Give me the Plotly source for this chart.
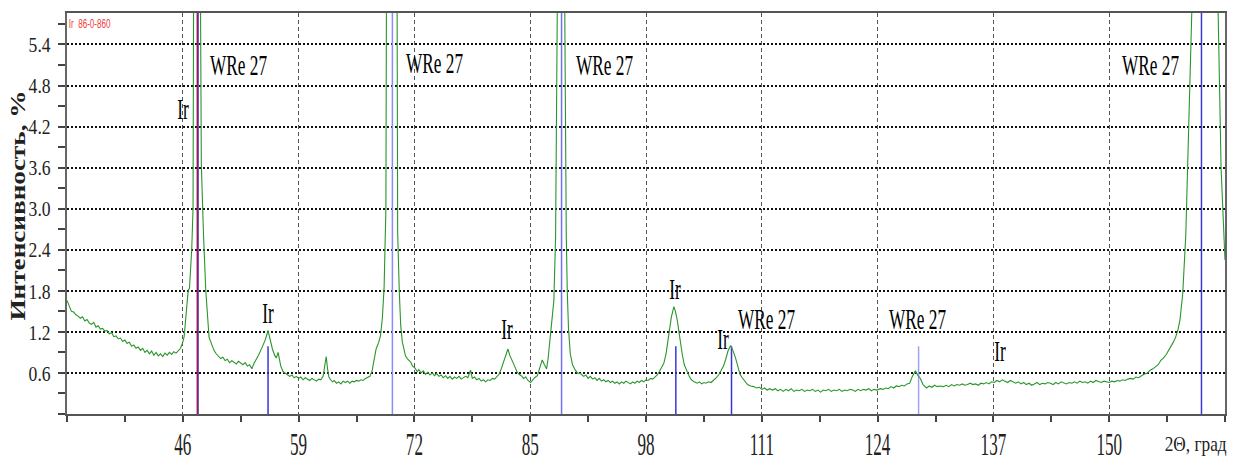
import plotly.graph_objects as go

# Diffraction pattern (2-theta in degrees, intensity in %)
two_theta = [
    33.0, 33.25, 33.5, 33.75, 34.0, 34.25, 34.5, 34.75, 35.0, 35.25, 35.5, 35.75,
    36.0, 36.25, 36.5, 36.75, 37.0, 37.25, 37.5, 37.75, 38.0, 38.25, 38.5, 38.75,
    39.0, 39.25, 39.5, 39.75, 40.0, 40.25, 40.5, 40.75, 41.0, 41.25, 41.5, 41.75,
    42.0, 42.25, 42.5, 42.75, 43.0, 43.25, 43.5, 43.75, 44.0, 44.25, 44.5, 44.75,
    45.0, 45.25, 45.5, 45.75, 46.0, 46.15, 46.3, 46.45, 46.6, 46.75, 47.0, 47.15,
    47.3, 47.4, 47.68, 47.95, 48.08, 48.32, 48.58, 48.95, 49.25, 49.5, 49.75,
    50.0, 50.25, 50.5, 50.75, 51.0, 51.25, 51.5, 51.75, 52.0, 52.25, 52.5, 52.75,
    53.0, 53.25, 53.5, 53.75, 54.0, 54.25, 54.5, 54.75, 55.0, 55.25, 55.57, 55.8,
    56.06, 56.3, 56.5, 56.7, 56.85, 57.0, 57.25, 57.5, 57.75, 58.0, 58.25, 58.5,
    58.75, 59.0, 59.25, 59.5, 59.75, 60.0, 60.25, 60.5, 60.75, 61.0, 61.25, 61.5,
    61.75, 62.0, 62.1, 62.25, 62.4, 62.6, 62.8, 63.0, 63.25, 63.5, 63.75, 64.0,
    64.25, 64.5, 64.75, 65.0, 65.25, 65.5, 65.75, 66.0, 66.25, 66.5, 66.75, 67.0,
    67.25, 67.5, 67.7, 68.0, 68.2, 68.4, 68.6, 68.8, 68.97, 69.1, 69.53, 69.95,
    70.05, 70.12, 70.3, 70.46, 70.65, 70.83, 71.0, 71.25, 71.58, 71.8, 72.0, 72.33,
    72.5, 72.75, 73.0, 73.25, 73.5, 73.75, 74.0, 74.25, 74.5, 74.75, 75.0, 75.25,
    75.5, 75.75, 76.0, 76.25, 76.5, 76.75, 77.0, 77.25, 77.5, 77.75, 78.0, 78.3,
    78.5, 78.75, 79.0, 79.25, 79.5, 79.75, 80.0, 80.25, 80.5, 80.75, 81.0, 81.25,
    81.5, 81.75, 82.05, 82.3, 82.5, 82.7, 83.0, 83.25, 83.5, 83.75, 84.0, 84.25,
    84.5, 84.75, 85.04, 85.25, 85.5, 85.8, 86.1, 86.35, 86.6, 86.84, 87.0, 87.3,
    87.5, 87.66, 87.85, 88.04, 88.15, 88.52, 88.8, 88.88, 88.95, 89.05, 89.16,
    89.3, 89.5, 89.75, 90.07, 90.3, 90.65, 91.0, 91.25, 91.5, 91.75, 92.0, 92.25,
    92.5, 92.75, 93.0, 93.25, 93.5, 93.75, 94.0, 94.25, 94.5, 94.75, 95.0, 95.25,
    95.5, 95.75, 96.0, 96.25, 96.5, 96.75, 97.0, 97.25, 97.5, 97.75, 98.0, 98.25,
    98.5, 98.75, 99.0, 99.26, 99.5, 99.75, 100.0, 100.25, 100.57, 100.85, 101.13,
    101.3, 101.5, 101.75, 102.06, 102.3, 102.6, 102.85, 103.1, 103.4, 103.75,
    104.0, 104.25, 104.5, 104.75, 105.0, 105.3, 105.6, 105.9, 106.2, 106.45,
    106.7, 106.95, 107.2, 107.5, 107.75, 108.05, 108.3, 108.55, 108.8, 109.1,
    109.4, 109.75, 110.1, 110.4, 110.75, 111.0, 111.3, 111.6, 111.9, 112.2, 112.5,
    112.8, 113.1, 113.4, 113.7, 114.0, 114.3, 114.6, 114.9, 115.2, 115.5, 115.8,
    116.1, 116.4, 116.7, 117.0, 117.3, 117.6, 117.9, 118.2, 118.5, 118.8, 119.1,
    119.4, 119.7, 120.0, 120.3, 120.6, 120.9, 121.2, 121.5, 121.8, 122.1, 122.4,
    122.7, 123.0, 123.3, 123.6, 123.9, 124.3, 124.6, 124.9, 125.2, 125.5, 125.8,
    126.1, 126.4, 126.7, 127.0, 127.3, 127.6, 127.9, 128.24, 128.5, 128.8, 129.1,
    129.5, 129.8, 130.1, 130.4, 130.7, 131.0, 131.4, 131.7, 132.0, 132.3, 132.6,
    132.9, 133.2, 133.5, 133.8, 134.1, 134.4, 134.7, 135.0, 135.3, 135.6, 135.9,
    136.2, 136.5, 136.8, 137.1, 137.4, 137.7, 138.0, 138.3, 138.6, 138.9, 139.2,
    139.5, 139.8, 140.1, 140.4, 140.7, 141.0, 141.3, 141.6, 141.9, 142.2, 142.5,
    142.8, 143.1, 143.4, 143.7, 144.0, 144.3, 144.6, 144.9, 145.2, 145.5, 145.8,
    146.1, 146.4, 146.7, 147.0, 147.3, 147.6, 147.9, 148.2, 148.5, 148.8, 149.1,
    149.4, 149.7, 150.0, 150.3, 150.6, 150.9, 151.2, 151.5, 151.8, 152.1, 152.4,
    152.7, 153.0, 153.3, 153.6, 153.9, 154.3, 154.6, 154.9, 155.2, 155.5, 155.8,
    156.1, 156.4, 156.7, 156.9, 157.2, 157.45, 157.7, 157.95, 158.25, 158.6,
    159.0, 159.4, 159.8, 160.33, 161.5, 162.18, 162.56, 162.85, 163.0,
]
intensity = [
    1.66, 1.58, 1.50, 1.49, 1.45, 1.43, 1.40, 1.42, 1.36, 1.38, 1.33, 1.31,
    1.34, 1.27, 1.29, 1.24, 1.25, 1.21, 1.22, 1.17, 1.19, 1.13, 1.14, 1.10,
    1.11, 1.06, 1.08, 1.03, 1.05, 0.99, 1.01, 0.96, 0.98, 0.93, 0.96, 0.90,
    0.93, 0.88, 0.92, 0.86, 0.90, 0.85, 0.88, 0.84, 0.89, 0.86, 0.90, 0.87,
    0.91, 0.89, 0.93, 0.96, 1.05, 1.13, 1.35, 1.56, 1.80, 1.84, 2.40, 3.00,
    4.50, 7.00, 30.0, 7.00, 3.65, 2.63, 1.80, 1.12, 1.00, 0.93, 0.88,
    0.85, 0.81, 0.83, 0.78, 0.80, 0.75, 0.78, 0.76, 0.73, 0.77, 0.74, 0.72,
    0.75, 0.70, 0.72, 0.66, 0.74, 0.79, 0.86, 0.93, 1.00, 1.08, 1.22, 1.07,
    0.95, 0.86, 0.82, 0.90, 0.78, 0.70, 0.62, 0.60, 0.57, 0.55, 0.57, 0.53,
    0.55, 0.52, 0.54, 0.50, 0.53, 0.51, 0.49, 0.52, 0.50, 0.48, 0.51, 0.50,
    0.55, 0.72, 0.84, 0.66, 0.54, 0.50, 0.47, 0.49, 0.45, 0.47, 0.44, 0.48,
    0.46, 0.48, 0.45, 0.48, 0.47, 0.49, 0.48, 0.50, 0.49, 0.52, 0.53, 0.55,
    0.63, 0.82, 0.95, 1.05, 1.15, 1.40, 1.85, 3.00, 5.90, 12.0, 40.0, 12.0,
    4.00, 2.67, 1.80, 1.30, 1.05, 0.93, 0.85, 0.80, 0.76, 0.70, 0.68, 0.62,
    0.65, 0.60, 0.63, 0.58, 0.61, 0.57, 0.60, 0.56, 0.59, 0.55, 0.57, 0.53,
    0.56, 0.52, 0.55, 0.51, 0.54, 0.52, 0.55, 0.51, 0.53, 0.55, 0.53, 0.64,
    0.52, 0.54, 0.50, 0.52, 0.48, 0.50, 0.47, 0.50, 0.49, 0.52, 0.51, 0.55,
    0.58, 0.66, 0.77, 0.86, 0.95, 0.86, 0.78, 0.70, 0.62, 0.58, 0.56, 0.52,
    0.54, 0.49, 0.46, 0.50, 0.53, 0.56, 0.70, 0.79, 0.72, 0.66, 0.80, 1.15,
    1.40, 1.66, 2.60, 5.90, 12.0, 40.0, 12.0, 5.90, 4.00, 2.60, 1.80,
    1.25, 0.88, 0.72, 0.64, 0.60, 0.59, 0.55, 0.57, 0.52, 0.55, 0.51, 0.53,
    0.49, 0.52, 0.48, 0.50, 0.47, 0.49, 0.46, 0.48, 0.45, 0.47, 0.44, 0.47,
    0.45, 0.48, 0.46, 0.44, 0.47, 0.45, 0.48, 0.46, 0.49, 0.47, 0.50, 0.49,
    0.52, 0.51, 0.54, 0.57, 0.62, 0.68, 0.74, 0.88, 1.17, 1.42, 1.57,
    1.50, 1.38, 1.12, 0.88, 0.72, 0.62, 0.55, 0.50, 0.47, 0.45,
    0.47, 0.44, 0.46, 0.45, 0.47, 0.46, 0.49, 0.53, 0.58, 0.64,
    0.70, 0.80, 0.92, 1.00, 0.93, 0.82, 0.68, 0.58, 0.53, 0.47,
    0.43, 0.41, 0.40, 0.38, 0.39, 0.36, 0.38, 0.35, 0.37, 0.35, 0.37,
    0.34, 0.36, 0.33, 0.36, 0.34, 0.37, 0.33, 0.35, 0.34, 0.36, 0.33,
    0.35, 0.34, 0.36, 0.33, 0.35, 0.32, 0.35, 0.34, 0.36, 0.33, 0.35,
    0.34, 0.36, 0.33, 0.35, 0.34, 0.36, 0.35, 0.33, 0.36, 0.34, 0.36,
    0.35, 0.37, 0.34, 0.36, 0.35, 0.37, 0.36, 0.38, 0.37, 0.40, 0.38,
    0.41, 0.40, 0.42, 0.41, 0.44, 0.45, 0.55, 0.63, 0.57, 0.52, 0.43,
    0.38, 0.41, 0.39, 0.42, 0.40, 0.41, 0.40, 0.42, 0.40, 0.43, 0.41,
    0.43, 0.42, 0.44, 0.42, 0.43, 0.45, 0.43, 0.44, 0.42, 0.45, 0.44,
    0.46, 0.44, 0.47, 0.46, 0.49, 0.47, 0.50, 0.48, 0.46, 0.49, 0.47,
    0.45, 0.47, 0.44, 0.46, 0.43, 0.45, 0.42, 0.44, 0.46, 0.43, 0.45,
    0.44, 0.46, 0.45, 0.43, 0.46, 0.44, 0.47, 0.45, 0.44, 0.46, 0.45,
    0.47, 0.45, 0.48, 0.46, 0.47, 0.45, 0.48, 0.46, 0.49, 0.47, 0.46,
    0.48, 0.47, 0.46, 0.48, 0.47, 0.49, 0.48, 0.50, 0.49, 0.51, 0.52,
    0.51, 0.54, 0.53, 0.56, 0.58, 0.60, 0.64, 0.66, 0.69, 0.72, 0.785,
    0.82, 0.87, 0.93, 0.98, 1.05, 1.12, 1.22, 1.38, 1.75, 2.62,
    4.56, 6.50, 15.0, 30.0, 15.0, 6.20, 3.59, 2.62, 2.25,
]

# Reference lines of the phases (position, height, colour)
stick_pos = [47.63, 47.71, 55.57, 69.53, 88.52, 101.35, 107.6, 128.6, 160.36]
stick_height = [100, 100, 0.99, 100, 100, 0.99, 0.99, 0.99, 100]
stick_color = ["#c81030", "#5a2a9a", "#3535e0", "#8c8cf5", "#7070f0",
               "#3535e0", "#3535e0", "#a0a0f8", "#3a3ad8"]

# Phase labels
label_text = ["Ir", "WRe 27", "Ir", "WRe 27", "Ir", "WRe 27", "Ir", "Ir",
              "WRe 27", "WRe 27", "Ir", "WRe 27"]
label_x = [46.05, 52.3, 55.55, 74.3, 82.45, 93.3, 101.3, 106.6, 111.5,
           128.5, 137.7, 154.6]
label_y = [4.46, 5.11, 1.48, 5.13, 1.25, 5.11, 1.83, 1.10, 1.39, 1.39, 0.93,
           5.11]

y_ticks = [0.6, 1.2, 1.8, 2.4, 3.0, 3.6, 4.2, 4.8, 5.4]
x_ticks = [46, 59, 72, 85, 98, 111, 124, 137, 150]

fig = go.Figure()

for pos, h, c in zip(stick_pos, stick_height, stick_color):
    fig.add_trace(go.Scatter(x=[pos, pos], y=[0, h], mode="lines",
                             line=dict(color=c, width=1.5),
                             hoverinfo="skip", showlegend=False))

fig.add_trace(go.Scatter(x=two_theta, y=intensity, mode="lines",
                         line=dict(color="#2a962a", width=1.1),
                         showlegend=False))

serif = "Liberation Serif"
for t, x, y in zip(label_text, label_x, label_y):
    fig.add_annotation(x=x, y=y, text=t, showarrow=False,
                       font=dict(family=serif, size=30, color="black"))

fig.add_annotation(xref="paper", yref="paper", x=0.019, y=0.975,
                   xanchor="center", yanchor="middle", showarrow=False,
                   text="Ir  86-0-860",
                   font=dict(family="Liberation Sans", size=13, color="#f03a3a"))

fig.add_annotation(xref="paper", yref="paper", x=-0.0415, y=0.52,
                   xanchor="center", yanchor="middle", showarrow=False,
                   textangle=-90, text="<b>Интенсивность, %</b>",
                   font=dict(family=serif, size=21, color="#222"))

fig.add_annotation(xref="paper", yref="paper", x=0.9747, y=-0.075,
                   xanchor="center", yanchor="middle", showarrow=False,
                   text="2Θ, град",
                   font=dict(family=serif, size=21, color="#222"))

fig.update_xaxes(range=[33, 163], tickvals=x_ticks, automargin=False,
                 ticks="outside", ticklen=6, tickcolor="#444", tickwidth=1.5,
                 minor=dict(dtick=6.5, tick0=33, ticks="outside", ticklen=6,
                            tickcolor="#444", tickwidth=1.5, showgrid=False),
                 showgrid=True, gridcolor="#555", gridwidth=1.2,
                 griddash="4px,3px",
                 showline=True, linecolor="#555", linewidth=2, mirror=True,
                 tickfont=dict(family=serif, size=31, color="#222"),
                 ticklabelstandoff=-4, zeroline=False)

fig.update_yaxes(range=[0, 5.86], tickvals=y_ticks, tickformat=".1f",
                 automargin=False,
                 ticks="outside", ticklen=7, tickcolor="#444", tickwidth=1.5,
                 minor=dict(dtick=0.3, tick0=0, ticks="outside", ticklen=7,
                            tickcolor="#444", tickwidth=1.5, showgrid=False),
                 showgrid=True, gridcolor="#111", gridwidth=1.5,
                 griddash="2px,2px",
                 showline=True, linecolor="#666", linewidth=2, mirror=True,
                 tickfont=dict(family=serif, size=22, color="#222"),
                 ticklabelstandoff=3, zeroline=False)

fig.update_layout(width=1242, height=469,
                  margin=dict(l=67, r=17, t=13, b=55),
                  paper_bgcolor="white", plot_bgcolor="white")

# Narrow serif lettering: compress the glyphs horizontally (the y title is
# stretched along its length instead).
condense_js = """
var gd = document.getElementById('{plot_id}');
function fit(el, f, abs) {
  var L = el.getComputedTextLength();
  if (!L) return;
  var target = abs ? abs : L * f;
  el.setAttribute('textLength', target.toFixed(1));
  el.setAttribute('lengthAdjust', 'spacingAndGlyphs');
}
gd.querySelectorAll('.xtick text').forEach(function (t) { fit(t, 0.55); });
gd.querySelectorAll('.ytick text').forEach(function (t) { fit(t, 0.8); });
gd.querySelectorAll('.annotation-text').forEach(function (t) {
  var s = t.textContent;
  if (s.indexOf('\\u0418\\u043d\\u0442') === 0) fit(t, 0, 230);
  else if (s.indexOf('86-0-860') >= 0) fit(t, 0.62);
  else if (s.indexOf('\\u0433\\u0440\\u0430\\u0434') >= 0) fit(t, 0, 62);
  else fit(t, 0.575);
});
"""

fig.write_html("out.html", post_script=condense_js)
